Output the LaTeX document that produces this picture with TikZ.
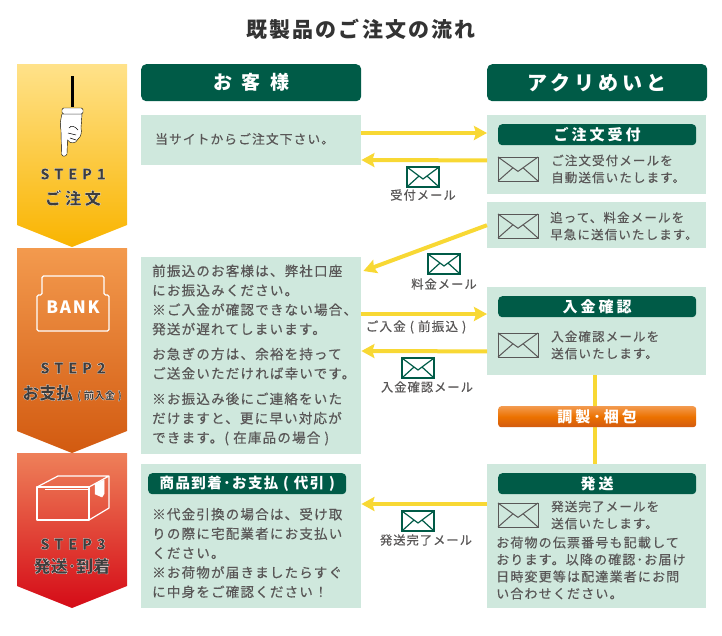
\documentclass[tikz,border=0pt]{standalone}
\usepackage{fontspec}
\usetikzlibrary{arrows.meta}
\newfontfamily\jp{Noto Sans CJK JP}[LetterSpace=9,FakeBold=0.5]
\newfontfamily\jpbar{Noto Sans CJK JP}[LetterSpace=10]
\newfontfamily\jpmid{Noto Sans CJK JP}[LetterSpace=20]
\newfontfamily\jpwide{Noto Sans CJK JP}[LetterSpace=30]
\newfontfamily\jphead{Noto Sans CJK JP}[LetterSpace=50]
\newfontfamily\jptight{Noto Sans CJK JP}
\definecolor{leaf}{HTML}{005B47}
\definecolor{panelgreen}{HTML}{CFE8DD}
\definecolor{flowyellow}{HTML}{F8D834}
\definecolor{ink}{HTML}{595757}
\definecolor{sunA}{HTML}{FFE28A}
\definecolor{sunB}{HTML}{FFD200}
\definecolor{sunC}{HTML}{F9B400}
\definecolor{amberA}{HTML}{F39A4E}
\definecolor{amberB}{HTML}{EC7200}
\definecolor{amberC}{HTML}{D25A10}
\definecolor{rubyA}{HTML}{EE8059}
\definecolor{rubyB}{HTML}{DE1A1C}
\definecolor{rubyC}{HTML}{D50B17}
\newcommand{\halo}[1]{\special{pdf:code q 2 Tr 1 1 1 RG .18 w}#1\special{pdf:code Q}}
\tikzset{
  panel/.style={fill=panelgreen,inner sep=0pt,anchor=north west},
  header/.style={fill=leaf,rounded corners=5pt,inner sep=0pt,text=white,
    font=\jphead\bfseries\fontsize{19}{22}\selectfont,minimum width=220pt,minimum height=37pt},
  banner/.style={fill=leaf,rounded corners=4pt,inner sep=0pt,text=white,
    font=\jpmid\bfseries\fontsize{15}{17}\selectfont,minimum width=198pt,minimum height=21pt},
  body/.style={inner sep=0pt,anchor=west,align=left,text=ink,
    font=\jp\fontsize{13.5}{19.4}\selectfont},
  small/.style={inner sep=0pt,anchor=west,align=left,text=ink,
    font=\jp\fontsize{12.5}{17}\selectfont},
  caption/.style={inner sep=0pt,text=ink,font=\jp\fontsize{12.2}{14}\selectfont},
  steptag/.style={inner sep=0pt,text=ink!70!black,font=\jpwide\bfseries\fontsize{15}{16}\selectfont},
  steptext/.style={inner sep=0pt,text=ink!70!black,font=\jptight\bfseries\fontsize{17}{18}\selectfont},
  flow/.style={draw=flowyellow,line width=4pt,-{Stealth[length=13pt,width=14pt,inset=2pt]}},
  pics/envelope/.style 2 args={code={
    \draw[#1,line width=#2] (-1,-1) rectangle (1,1);
    \draw[#1,line width=#2] (-1,-1) -- (0,.2) -- (1,-1)
      (-1,1) -- (-.25,-.1) (1,1) -- (.25,-.1);
  }},
}
\begin{document}
\begin{tikzpicture}[x=1pt,y=-1pt]
\useasboundingbox (0,0) rectangle (722,635);
\node[inner sep=0pt,text=black!80,font=\jpbar\bfseries\fontsize{21}{24}\selectfont] (title) at (361,29) {既製品のご注文の流れ};

% steps
\shade[top color=sunA,middle color=sunB,bottom color=sunC]
  (17,64) -- (127,64) -- (127,225) -- (72,247) -- (17,225) -- cycle;
\shade[top color=amberA,middle color=amberB,bottom color=amberC]
  (17,248) -- (127,248) -- (127,431) -- (72,453) -- (17,431) -- cycle;
\shade[top color=rubyA,middle color=rubyB,bottom color=rubyC]
  (17,453) -- (127,453) -- (127,586) -- (72,608) -- (17,586) -- cycle;

% hand
\draw[line width=3pt] (72,76) -- (72,107);
\draw[fill=white,line width=.4pt] (62,114) .. controls (60,122) and (60,126) .. (61,130)
  -- (61.5,154) .. controls (62,157) and (66,157) .. (67,154) -- (67.5,140)
  .. controls (70,144) and (76,144) .. (78,139) .. controls (81,137) and (82,132) .. (81,128)
  -- (82,114) -- cycle;
\draw[fill=white,rounded corners=1.5pt,line width=.4pt] (62,108) rectangle (83,114);
\draw[line width=.5pt] (69,128) .. controls (71,125) and (75,126) .. (78,130)
  (68,133) -- (76,135) (70,138) -- (76,140);

% bank
\draw[white,line width=1.2pt,rounded corners=1.5pt] (42,295) -- (42,276) -- (104,276) -- (104,295)
  -- (109,295) -- (109,331) -- (37,331) -- (37,295) -- cycle;
\node[inner sep=0pt,text=white,font=\jpbar\bfseries\fontsize{17}{20}\selectfont] (bank) at (73,307) {BANK};

% box
\draw[white,line width=1.2pt,line join=round] (37,487) rectangle (89,520);
\draw[white,line width=1.2pt,line join=round] (37,487) -- (58,476) -- (109,476) -- (89,487)
  (89,520) -- (109,508) -- (109,476);
\draw[white,line width=.8pt] (45,489) -- (90,489);
\draw[white,fill=white,line width=.5pt] (95,484) -- (104,480) -- (104,494) -- (102,497) -- (95,494) -- cycle;

% step labels
\node[steptag] (stepone) at (73,174) {\halo{STEP1}};
\node[steptext,font=\jpmid\bfseries\fontsize{16.5}{18}\selectfont] (orderstep) at (73,198) {\halo{ご注文}};
\node[steptag] (steptwo) at (73,368) {\halo{STEP2}};
\node[steptext] (paystep) at (72,393) {\halo{お支払 {\fontsize{10.5}{12}\selectfont ( 前入金 )}}};
\node[steptag] (stepthree) at (73,544) {\halo{STEP3}};
\node[steptext] (shipstep) at (72,566) {\halo{発送･到着}};

% headers
\node[header,anchor=north west] (guest) at (141,64) {お客様};
\node[header,anchor=north west,font=\jpmid\bfseries\fontsize{20}{22}\selectfont] (shop) at (487,64) {アクリめいと};

% customer side
\node[panel,minimum width=220pt,minimum height=50pt] (request) at (141,115) {};
\node[panel,minimum width=220pt,minimum height=197pt] (prepay) at (141,257) {};
\node[panel,minimum width=220pt,minimum height=144pt] (cod) at (141,464) {};
\node[body,font=\jp\fontsize{12.7}{19.4}\selectfont] (requesttext) at (155,139) {当サイトからご注文下さい。};
\node[body] (prepaytext) at (152,355) {前振込のお客様は、弊社口座\\
  にお振込みください。\\
  ※ご入金が確認できない場合、\\
  発送が遅れてしまいます。\\[5.5pt]
  お急ぎの方は、余裕を持って\\
  ご送金いただければ幸いです。\\[6pt]
  ※お振込み後にご連絡をいた\\
  だけますと、更に早い対応が\\
  できます。( 在庫品の場合 )};
\node[banner,anchor=north west,font=\jpbar\bfseries\fontsize{14.5}{16}\selectfont] (codbar) at (148,473) {商品到着･お支払 ( 代引 )};
\node[body] (codtext) at (152,553) {※代金引換の場合は、受け取\\
  りの際に宅配業者にお支払い\\
  ください。\\
  ※お荷物が届きましたらすぐ\\
  に中身をご確認ください！};

% shop side
\draw[draw=flowyellow,line width=4pt] (595,375) -- (595,464);
\node[panel,minimum width=219pt,minimum height=79pt] (accept) at (487,115) {};
\node[panel,minimum width=219pt,minimum height=46pt] (invoice) at (487,202) {};
\node[panel,minimum width=219pt,minimum height=88pt] (confirm) at (487,287) {};
\node[panel,minimum width=219pt,minimum height=144pt] (ship) at (487,464) {};
\node[banner,anchor=north west] (acceptbar) at (498,124) {ご注文受付};
\node[banner,anchor=north west] (confirmbar) at (498,296) {入金確認};
\node[banner,anchor=north west,top color=amberA,bottom color=amberC,middle color=amberB,fill=none,rounded corners=3pt] (packbar) at (498,406) {調製･梱包};
\node[banner,anchor=north west] (shipbar) at (498,473) {発送};
\node[small] (accepttext) at (551,169) {ご注文受付メールを\\自動送信いたします。};
\node[small] (invoicetext) at (550,226) {追って、料金メールを\\早急に送信いたします。};
\node[small] (confirmtext) at (551,345) {入金確認メールを\\送信いたします。};
\node[small] (shiptext) at (551,515) {発送完了メールを\\送信いたします。};
\node[small,font=\jp\fontsize{13}{17}\selectfont] (shipnote) at (496,568) {お荷物の伝票番号も記載して\\
  おります。以降の確認･お届け\\
  日時変更等は配達業者にお問\\
  い合わせください。};

% mails in panels
\pic[scale=20,yscale=.6] at (518,169) {envelope={ink}{1pt}};
\pic[scale=20,yscale=.6] at (518,226) {envelope={ink}{1pt}};
\pic[scale=20,yscale=.6] at (518,345) {envelope={ink}{1pt}};
\pic[scale=20,yscale=.6] at (518,515) {envelope={ink}{1pt}};

% connectors
\draw[flow] ([yshift=-18pt]request.north east) -- ([yshift=-18pt]accept.north west);
\draw[flow] ([yshift=34pt]accept.south west) -- ([yshift=-45pt]request.north east);
\draw[flow] (invoice.west) -- ([xshift=2pt,yshift=-14pt]prepay.north east);
\draw[flow] ([yshift=-57pt]prepay.north east) -- ([yshift=-27pt]confirm.north west);
\draw[flow] ([yshift=24pt]confirm.south west) -- ([yshift=-94pt]prepay.north east);
\draw[flow] ([yshift=-40pt]ship.north west) -- ([yshift=-40pt]cod.north east);

% mails between
\pic[scale=16,yscale=.62] at (423,177) {envelope={leaf}{1.2pt}};
\pic[scale=16,yscale=.62] at (444,264) {envelope={leaf}{1.2pt}};
\pic[scale=16,yscale=.62] at (418,368) {envelope={leaf}{1.2pt}};
\pic[scale=16,yscale=.62] at (418,521) {envelope={leaf}{1.2pt}};
\node[caption] (acceptmail) at (423,195) {受付メール};
\node[caption] (invoicemail) at (444,284) {料金メール};
\node[caption,font=\jp\fontsize{12.6}{14}\selectfont] (paylabel) at (416,327) {ご入金 ( 前振込 )};
\node[caption] (confirmmail) at (427,387) {入金確認メール};
\node[caption] (shipmail) at (426,540) {発送完了メール};
\end{tikzpicture}
\end{document}
